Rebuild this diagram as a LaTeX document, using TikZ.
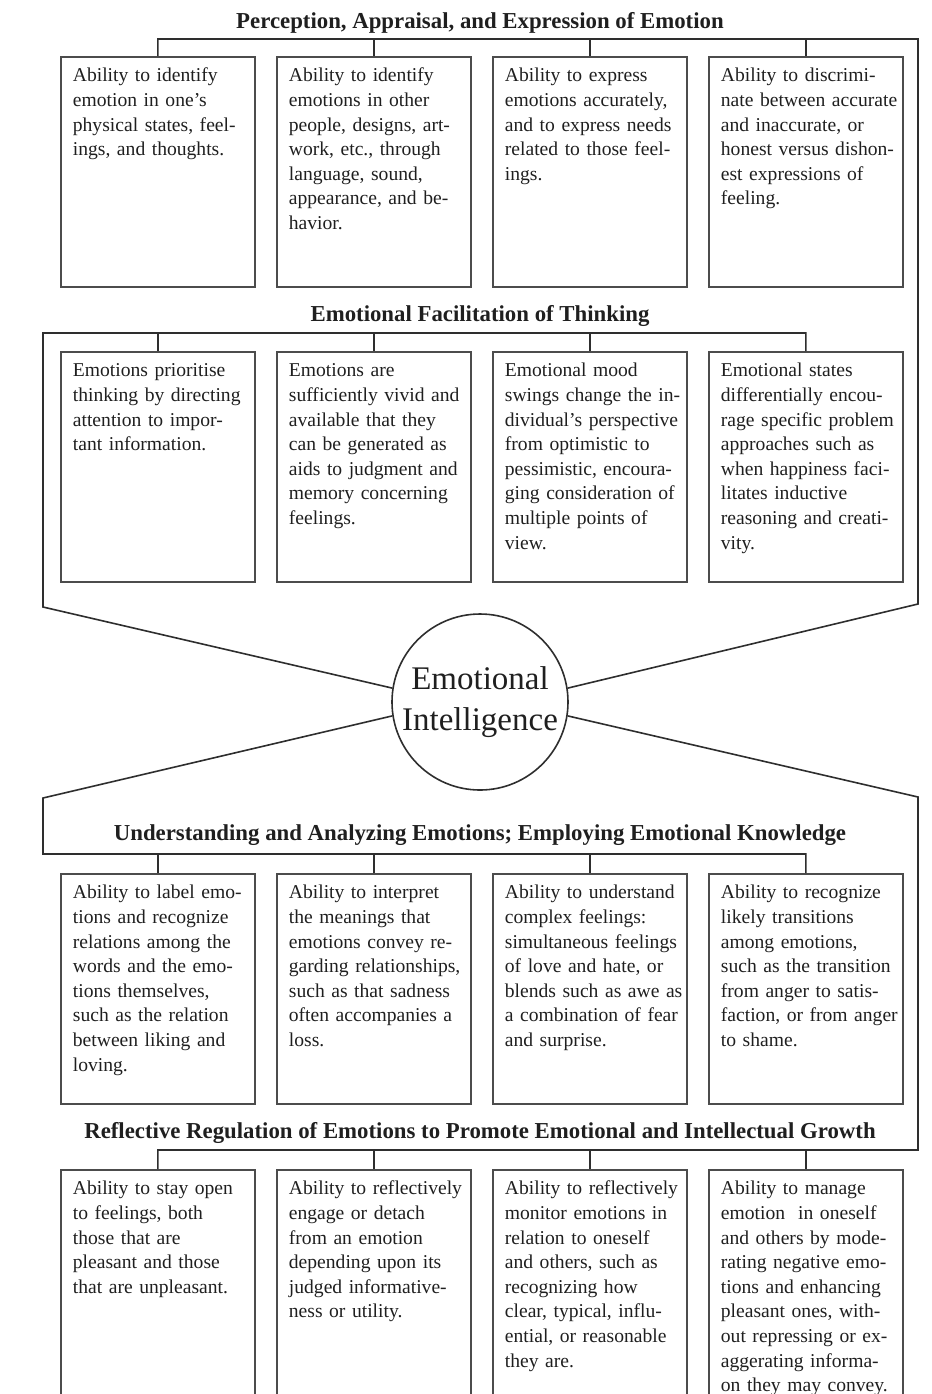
\documentclass[tikz,border=0pt]{standalone}
\usepackage{fontspec}
\setmainfont{Liberation Serif}
\usepackage{tikz}

\definecolor{boxgray}{gray}{0.3}
\definecolor{linegray}{gray}{0.18}
\definecolor{textgray}{gray}{0.12}

\tikzset{
  ability/.style={draw=boxgray, line width=0.9pt, anchor=north west,
    text width=91pt, inner xsep=3pt, inner ysep=4pt,
    text height=8.5pt, text depth=98.5pt, align=left, text=textgray,
    font=\fontsize{9.8}{12.3}\selectfont,
    execute at begin node={\setlength{\leftskip}{3pt}\setlength{\rightskip}{0pt plus 1fil minus 8pt}}},
  branch/.style={font=\bfseries\fontsize{11.4}{13}\selectfont, text=textgray},
  link/.style={draw=linegray, line width=0.8pt}
}

\begin{document}
\begin{tikzpicture}[x=0.5pt, y=-0.5pt]
    \clip (0,0) rectangle (932,1394);

    % Perception, appraisal and expression
    \node[branch] (tPer) at (480,23) {Perception, Appraisal, and Expression of Emotion};
    \node[ability] (p1) at (60,56) {Ability to identify\\ emotion in one's\\ physical states, feel-\\ ings, and thoughts.};
    \node[ability] (p2) at (276,56) {Ability to identify\\ emotions in other\\ people, designs, art-\\ work, etc., through\\ language, sound,\\ appearance, and be-\\ havior.};
    \node[ability] (p3) at (492,56) {Ability to express\\ emotions accurately,\\ and to express needs\\ related to those feel-\\ ings.};
    \node[ability] (p4) at (708,56) {Ability to discrimi-\\ nate between accurate\\ and inaccurate, or\\ honest versus dishon-\\ est expressions of\\ feeling.};

    % Facilitation of thinking
    \node[branch] (tFac) at (480,316) {Emotional Facilitation of Thinking};
    \node[ability] (f1) at (60,351) {Emotions prioritise\\ thinking by directing\\ attention to impor-\\ tant information.};
    \node[ability] (f2) at (276,351) {Emotions are\\ sufficiently vivid and\\ available that they\\ can be generated as\\ aids to judgment and\\ memory concerning\\ feelings.};
    \node[ability] (f3) at (492,351) {Emotional mood\\ swings change the in-\\ dividual's perspective\\ from optimistic to\\ pessimistic, encoura-\\ ging consideration of\\ multiple points of\\ view.};
    \node[ability] (f4) at (708,351) {Emotional states\\ differentially encou-\\ rage specific problem\\ approaches such as\\ when happiness faci-\\ litates inductive\\ reasoning and creati-\\ vity.};

    % Centre circle
    \node[draw=linegray, line width=0.8pt, circle, minimum size=88pt, inner sep=0pt,
          align=center, text=textgray, font=\fontsize{16.5}{20.5}\selectfont] (ei) at (480,702) {Emotional\\Intelligence};

    % Understanding and analyzing
    \node[branch] (tUnd) at (480,835) {Understanding and Analyzing Emotions; Employing Emotional Knowledge};
    \node[ability] (u1) at (60,873) {Ability to label emo-\\ tions and recognize\\ relations among the\\ words and the emo-\\ tions themselves,\\ such as the relation\\ between liking and\\ loving.};
    \node[ability] (u2) at (276,873) {Ability to interpret\\ the meanings that\\ emotions convey re-\\ garding relationships,\\ such as that sadness\\ often accompanies a\\ loss.};
    \node[ability] (u3) at (492,873) {Ability to understand\\ complex feelings:\\ simultaneous feelings\\ of love and hate, or\\ blends such as awe as\\ a combination of fear\\ and surprise.};
    \node[ability] (u4) at (708,873) {Ability to recognize\\ likely transitions\\ among emotions,\\ such as the transition\\ from anger to satis-\\ faction, or from anger\\ to shame.};

    % Reflective regulation
    \node[branch] (tReg) at (480,1133) {Reflective Regulation of Emotions to Promote Emotional and Intellectual Growth};
    \node[ability] (r1) at (60,1169) {Ability to stay open\\ to feelings, both\\ those that are\\ pleasant and those\\ that are unpleasant.};
    \node[ability] (r2) at (276,1169) {Ability to reflectively\\ engage or detach\\ from an emotion\\ depending upon its\\ judged informative-\\ ness or utility.};
    \node[ability] (r3) at (492,1169) {Ability to reflectively\\ monitor emotions in\\ relation to oneself\\ and others, such as\\ recognizing how\\ clear, typical, influ-\\ ential, or reasonable\\ they are.};
    \node[ability] (r4) at (708,1169) {Ability to manage\\ emotion\ \ in oneself\\ and others by mode-\\ rating negative emo-\\ tions and enhancing\\ pleasant ones, with-\\ out repressing or ex-\\ aggerating informa-\\ on they may convey.};

    % Bends and bar heights of the brackets
    \coordinate (pTurn) at (918,604);
    \coordinate (fTurn) at (43,607);
    \coordinate (uTurn) at (43,798);
    \coordinate (rTurn) at (918,797);
    \coordinate (pBar) at (0,39);
    \coordinate (fBar) at (0,333);
    \coordinate (uBar) at (0,854);
    \coordinate (rBar) at (0,1150);

    % Brackets from the circle to each row
    \draw[link] (ei.9) -- (pTurn) |- (p1.north |- pBar) -- (p1.north);
    \foreach \b in {p2,p3,p4}
        \draw[link] (\b.north |- pBar) -- (\b.north);
    \draw[link] (ei.171) -- (fTurn) |- (f4.north |- fBar) -- (f4.north);
    \foreach \b in {f1,f2,f3}
        \draw[link] (\b.north |- fBar) -- (\b.north);
    \draw[link] (ei.189) -- (uTurn) |- (u4.north |- uBar) -- (u4.north);
    \foreach \b in {u1,u2,u3}
        \draw[link] (\b.north |- uBar) -- (\b.north);
    \draw[link] (ei.-9) -- (rTurn) |- (r1.north |- rBar) -- (r1.north);
    \foreach \b in {r2,r3,r4}
        \draw[link] (\b.north |- rBar) -- (\b.north);

\end{tikzpicture}
\end{document}
